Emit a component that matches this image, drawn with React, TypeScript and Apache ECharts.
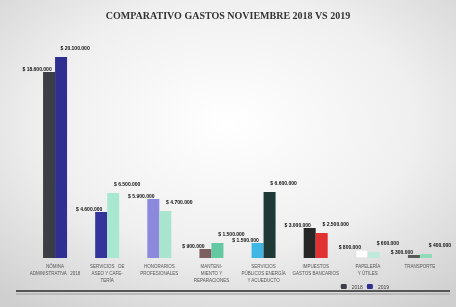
import React, { useEffect, useRef } from "react";
import * as echarts from "echarts";

const title = "COMPARATIVO GASTOS NOVIEMBRE 2018 VS 2019";
const categories = [
  "NÓMINA\nADMINISTRATIVA   2018",
  "SERVICIOS   DE\nASEO Y CAFE-\nTERÍA",
  "HONORARIOS\nPROFESIONALES",
  "MANTENI-\nMIENTO Y\nREPARACIONES",
  "SERVICIOS\nPÚBLICOS ENERGÍA\nY ACUEDUCTO",
  "IMPUESTOS\nGASTOS BANCARIOS",
  "PAPELERÍA\nY ÚTILES",
  "TRANSPORTE",
];
const seriesNames = ["2018", "2019"];
const values2018 = [18600000, 4600000, 5900000, 900000, 1500000, 3000000, 800000, 300000];
const values2019 = [20100000, 6500000, 4700000, 1500000, 6600000, 2500000, 600000, 400000];
const colors2018 = ["#3b3e42", "#34359a", "#8c88dc", "#7d5f60", "#3fb6e4", "#262626", "#ffffff", "#5a5a5a"];
const colors2019 = ["#2f2f92", "#a9e8d0", "#a8e4ce", "#62c9a2", "#1f3936", "#e23131", "#bfeadb", "#93d9bb"];

const fmt = (v: number) => "$ " + v.toLocaleString("de-DE");

export default function App() {
  const ref = useRef<HTMLDivElement>(null);
  useEffect(() => {
    if (!ref.current) return;
    const chart = echarts.init(ref.current, null, { renderer: "svg" });
    chart.setOption({
      animation: false,
      backgroundColor: {
        type: "radial",
        x: 0.5,
        y: 0.4,
        r: 0.75,
        colorStops: [
          { offset: 0, color: "#ffffff" },
          { offset: 0.55, color: "#efefef" },
          { offset: 1, color: "#cfcfcf" },
        ],
      },
      title: {
        text: title,
        left: "center",
        top: 5,
        textStyle: { fontFamily: "Liberation Serif", fontSize: 10, fontWeight: "bold", color: "#333" },
      },
      legend: {
        data: seriesNames,
        right: 62,
        top: 279,
        itemWidth: 6,
        itemHeight: 5,
        itemGap: 4,
        textStyle: { fontSize: 5, color: "#444" },
      },
      grid: { left: 29, right: 10, top: 28, bottom: 49 },
      xAxis: {
        type: "category",
        data: categories,
        axisLine: { show: false },
        axisTick: { show: false },
        axisLabel: { interval: 0, fontSize: 4.5, color: "#555", lineHeight: 7, margin: 5 },
      },
      yAxis: {
        type: "value",
        min: 0,
        max: 23000000,
        show: false,
        splitLine: { show: false },
      },
      series: [
        {
          name: seriesNames[0],
          type: "bar",
          barWidth: 12,
          barGap: "0%",
          itemStyle: { color: "#3b3e42" },
          data: values2018.map((v, i) => ({
            value: v,
            itemStyle: { color: colors2018[i], borderColor: i === 6 ? "#ddd" : undefined, borderWidth: i === 6 ? 0.5 : 0 },
          })),
          label: {
            show: true,
            position: "top",
            offset: [-12, 4],
            fontSize: 5,
            fontWeight: "bold",
            color: "#111",
            formatter: (p: any) => fmt(p.value),
          },
        },
        {
          name: seriesNames[1],
          type: "bar",
          barWidth: 12,
          barGap: "0%",
          itemStyle: { color: "#2f2f92" },
          data: values2019.map((v, i) => ({ value: v, itemStyle: { color: colors2019[i] } })),
          label: {
            show: true,
            position: "top",
            offset: [14, -2],
            fontSize: 5,
            fontWeight: "bold",
            color: "#111",
            formatter: (p: any) => fmt(p.value),
          },
        },
      ],
      graphic: [
        {
          type: "line",
          shape: { x1: 16, y1: 291, x2: 450, y2: 291 },
          style: { stroke: "#555", lineWidth: 2 },
        },
        {
          type: "line",
          shape: { x1: 16, y1: 294, x2: 450, y2: 294 },
          style: { stroke: "#bbb", lineWidth: 2 },
        },
      ],
    });
    return () => chart.dispose();
  }, []);
  return <div ref={ref} style={{ position: "fixed", left: 0, top: 0, width: 456, height: 307 }} />;
}
